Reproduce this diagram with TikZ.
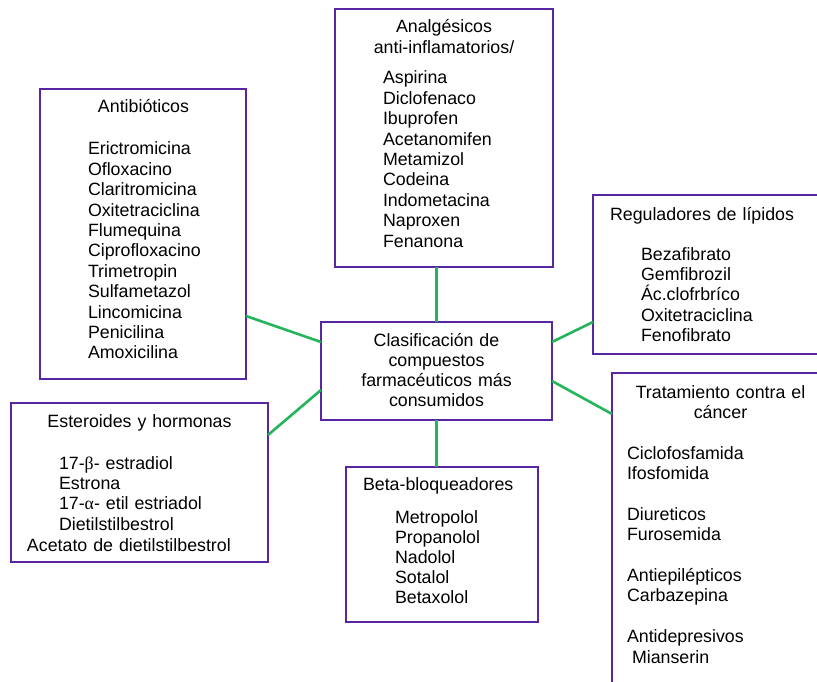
\documentclass[tikz,border=0pt]{standalone}
\usepackage{fontspec}
\setmainfont{Liberation Sans}
\newfontfamily\greekserif{Liberation Serif}
\definecolor{boxpurple}{RGB}{88,38,160}
\definecolor{linkgreen}{RGB}{36,180,90}
\tikzset{
  box/.style={draw=boxpurple, line width=2.8pt, rectangle, inner sep=0pt, outer sep=0pt},
  link/.style={draw=linkgreen, line width=2.6pt},
  txt/.style={inner sep=0pt, outer sep=0pt, font=\fontsize{17.8}{20.4}\selectfont,
              text=black, align=left, text width=#1, anchor=base west},
  txt/.default=230pt,
  ttl/.style={inner sep=0pt, outer sep=0pt, font=\fontsize{17.8}{20.4}\selectfont,
              text=black, align=center, text width=#1, anchor=base},
  ttl/.default=230pt,
}
\begin{document}
\begin{tikzpicture}[x=1pt,y=-1pt]
\path[use as bounding box] (0,0) rectangle (817,682);
\clip (0,0) rectangle (817,682);

% category boxes
\node[box, minimum width=206pt, minimum height=290pt] (ab) at (143,234) {};
\node[box, minimum width=218pt, minimum height=258pt] (an) at (444,138) {};
\node[box, minimum width=237pt, minimum height=159pt] (rl) at (711.5,274.5) {};
\node[box, minimum width=257pt, minimum height=159pt] (es) at (139.5,482.5) {};
\node[box, minimum width=231pt, minimum height=98pt]  (ce) at (436.5,371) {};
\node[box, minimum width=218pt, minimum height=327pt] (ca) at (721,536.5) {};
\node[box, minimum width=192pt, minimum height=155pt] (be) at (442,544.5) {};

% connectors from the central box
\draw[link] (ce.north) -- (ce.north |- an.south);
\draw[link] (ce.south) -- (ce.south |- be.north);
\draw[link] ([yshift=-82pt]ab.east) -- ([yshift=29pt]ce.west);
\draw[link] ([yshift=-19pt]ce.west) -- ([yshift=47.5pt]es.east);
\draw[link] ([yshift=29pt]ce.east) -- ([yshift=-47.5pt]rl.west);
\draw[link] ([yshift=-10pt]ce.east) -- ([yshift=122.5pt]ca.west);

% Antibióticos
\node[ttl] (ab-t) at (143.5,113) {Antibióticos};
\node[txt] (ab-l) at (88,155) {Erictromicina\\Ofloxacino\\Claritromicina\\Oxitetraciclina\\Flumequina\\Ciprofloxacino\\Trimetropin\\Sulfametazol\\Lincomicina\\Penicilina\\Amoxicilina};

% Analgésicos
\node[ttl] (an-t) at (444,33) {Analgésicos\\anti-inflamatorios/};
\node[txt] (an-l) at (383,84) {Aspirina\\Diclofenaco\\Ibuprofen\\Acetanomifen\\Metamizol\\Codeina\\Indometacina\\Naproxen\\Fenanona};

% Reguladores de lípidos
\node[txt] (rl-t) at (610,220) {Reguladores de lípidos};
\node[txt] (rl-l) at (641,260) {Bezafibrato\\Gemfibrozil\\Ác.clofrbríco\\Oxitetraciclina\\Fenofibrato};

% Esteroides y hormonas
\node[ttl] (es-t) at (139.5,427) {Esteroides y hormonas};
\node[txt] (es-l) at (59,469) {17-{\greekserif β}- estradiol\\Estrona\\17-{\greekserif α}- etil estriadol\\Dietilstilbestrol};
\node[txt] (es-x) at (27,551) {Acetato de dietilstilbestrol};

% central box
\node[ttl, font=\fontsize{17.8}{20}\selectfont] (ce-t) at (436.5,346.5) {Clasificación de\\compuestos\\farmacéuticos más\\consumidos};

% Tratamiento contra el cáncer
\node[ttl] (ca-t) at (720.5,398) {Tratamiento contra el\\cáncer};
\node[txt] (ca-l) at (627,459) {Ciclofosfamida\\Ifosfomida\\[20.4pt]Diureticos\\Furosemida\\[20.4pt]Antiepilépticos\\Carbazepina\\[20.4pt]Antidepresivos\\\hspace*{5pt}Mianserin};

% Beta-bloqueadores
\node[txt] (be-t) at (363,490) {Beta-bloqueadores};
\node[txt, font=\fontsize{17.8}{20}\selectfont] (be-l) at (395,523) {Metropolol\\Propanolol\\Nadolol\\Sotalol\\Betaxolol};
\end{tikzpicture}
\end{document}
